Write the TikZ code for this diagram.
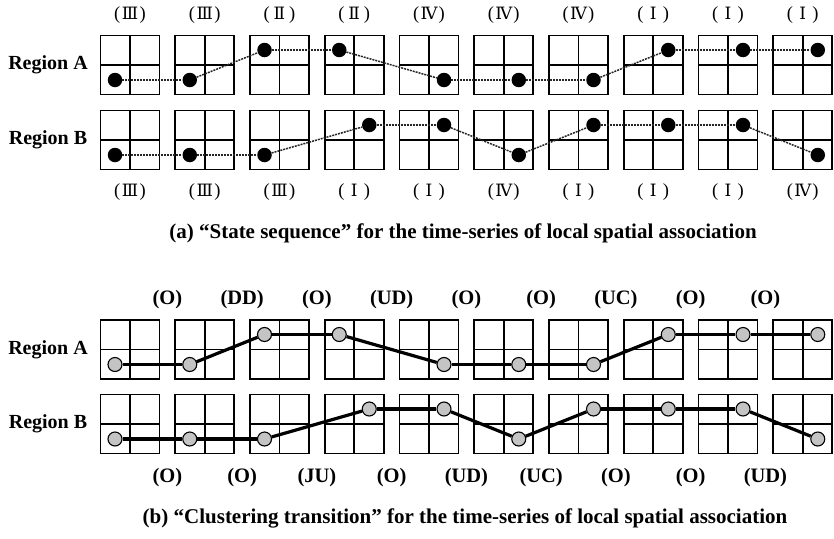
\documentclass[tikz,border=0pt]{standalone}
\usepackage{fontspec}
\setmainfont{Liberation Serif}
\newfontfamily\numfont{DejaVu Serif}
\usetikzlibrary{calc}
\newcommand{\rnum}[1]{(\makebox[1.05em]{\numfont\fontsize{17}{19}\selectfont #1})}
\def\numI{Ⅰ}\def\numII{Ⅱ}\def\numIII{Ⅲ}\def\numIV{Ⅳ}
\def\dxI{15}\def\dyI{-15}
\def\dxII{-15}\def\dyII{-15}
\def\dxIII{-15}\def\dyIII{15}
\def\dxIV{15}\def\dyIV{15}
\begin{document}
\begin{tikzpicture}[x=1pt,y=-1pt,
  cell/.style={draw, line width=1.6pt, minimum size=59pt, inner sep=0pt, outer sep=0pt,
    path picture={\draw[line width=1.6pt] (path picture bounding box.north) -- (path picture bounding box.south)
      (path picture bounding box.west) -- (path picture bounding box.east);}},
  sdot/.style={circle, fill=black, inner sep=0pt, minimum size=14.5pt},
  gdot/.style={circle, draw=black, line width=1.1pt, fill=black!23, inner sep=0pt, minimum size=14pt},
  dotline/.style={line width=1.5pt, dash pattern=on 2pt off 1pt, black!85},
  solidline/.style={line width=3.2pt, black},
  region/.style={font=\fontsize{20}{24}\selectfont\bfseries},
  rlabel/.style={font=\fontsize{18.5}{21}\selectfont},
  tlabel/.style={font=\fontsize{20.5}{24}\selectfont\bfseries},
  captionstyle/.style={font=\fontsize{21}{25}\selectfont\bfseries}]
\useasboundingbox (0,0) rectangle (834,538);

% ---------- panel (a) ----------
\node[region] (ta) at (48,65) {Region A};
\node[region] (tb) at (48,140) {Region B};
\foreach \i/\qa/\qb [evaluate=\i as \x using {130+74.75*(\i-1)}] in
  {1/III/III, 2/III/III, 3/II/III, 4/II/I, 5/IV/I, 6/IV/IV, 7/IV/I, 8/I/I, 9/I/I, 10/I/IV} {
  \node[cell] (tA\i) at (\x,65) {};
  \node[cell] (tB\i) at (\x,140) {};
  \node[rlabel] (tAl\i) at (\x,15) {\rnum{\csname num\qa\endcsname}};
  \node[rlabel] (tBl\i) at (\x,192) {\rnum{\csname num\qb\endcsname}};
  \node[sdot] (tAd\i) at ($(tA\i)+(\csname dx\qa\endcsname,\csname dy\qa\endcsname)$) {};
  \node[sdot] (tBd\i) at ($(tB\i)+(\csname dx\qb\endcsname,\csname dy\qb\endcsname)$) {};
}
\foreach \i [evaluate=\i as \j using int(\i+1)] in {1,...,9} {
  \draw[dotline] (tAd\i) -- (tAd\j);
  \draw[dotline] (tBd\i) -- (tBd\j);
}
\node[captionstyle] (capa) at (463,233) {(a) “State sequence” for the time-series of local spatial association};

% ---------- panel (b) ----------
\node[region] (ba) at (48,350) {Region A};
\node[region] (bb) at (48,424) {Region B};
\foreach \i/\qa/\qb [evaluate=\i as \x using {130+74.75*(\i-1)}] in
  {1/III/III, 2/III/III, 3/II/III, 4/II/I, 5/IV/I, 6/IV/IV, 7/IV/I, 8/I/I, 9/I/I, 10/I/IV} {
  \node[cell] (bA\i) at (\x,349.5) {};
  \node[cell] (bB\i) at (\x,424) {};
  \node[gdot] (bAd\i) at ($(bA\i)+(\csname dx\qa\endcsname,\csname dy\qa\endcsname)$) {};
  \node[gdot] (bBd\i) at ($(bB\i)+(\csname dx\qb\endcsname,\csname dy\qb\endcsname)$) {};
}
\foreach \i/\ta/\tb [evaluate=\i as \x using {167.4+74.75*(\i-1)}] in
  {1/O/O, 2/DD/O, 3/O/JU, 4/UD/O, 5/O/UD, 6/O/UC, 7/UC/O, 8/O/O, 9/O/UD} {
  \node[tlabel] (bAt\i) at (\x,300) {(\ta)};
  \node[tlabel] (bBt\i) at (\x,478) {(\tb)};
}
\foreach \i [evaluate=\i as \j using int(\i+1)] in {1,...,9} {
  \draw[solidline] (bAd\i) -- (bAd\j);
  \draw[solidline] (bBd\i) -- (bBd\j);
}
\node[captionstyle] (capb) at (465,518) {(b) “Clustering transition” for the time-series of local spatial association};
\end{tikzpicture}
\end{document}
